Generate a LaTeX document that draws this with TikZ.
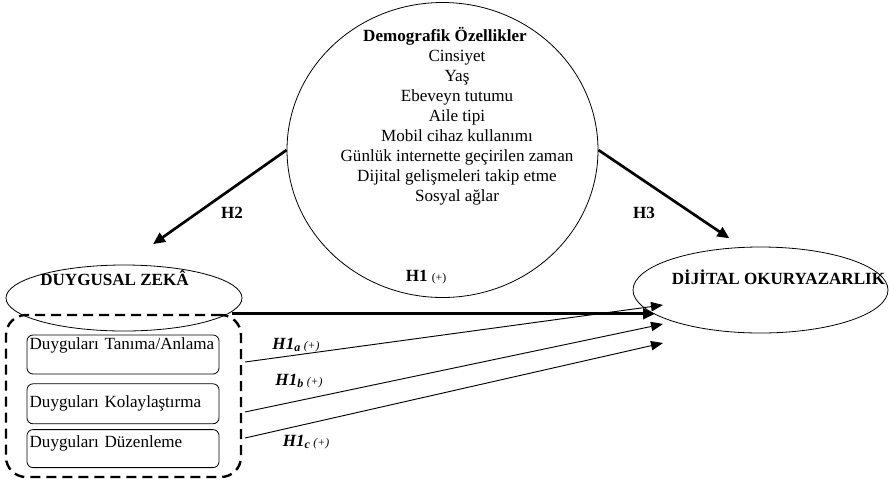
\documentclass[tikz,border=0pt]{standalone}
\usepackage{fontspec}
\setmainfont{Liberation Serif}
\usetikzlibrary{arrows.meta,positioning,shapes.geometric}
\newcommand{\hsub}[1]{\textbf{\textit{H1\textsubscript{#1}}}\,{\fontsize{8.8}{9}\selectfont\textit{(+)}}}

\begin{document}
\begin{tikzpicture}[x=0.75pt, y=-0.75pt, node distance=6.75pt,
  every node/.style={font=\fontsize{12.8}{15}\selectfont, inner sep=0pt},
  el/.style={ellipse, draw, line width=0.6pt},
  bx/.style={rounded corners=4.5pt, draw, line width=0.6pt, text width=140pt, inner xsep=2pt, align=left, text height=9pt, minimum height=29.25pt},
  grp/.style={rounded corners=15pt, draw, dash pattern=on 7.5pt off 4.5pt, line width=1.8pt, minimum width=176.25pt, minimum height=121.5pt},
  hy/.style={font=\fontsize{12.8}{15}\selectfont\bfseries},
  a/.style={-{Triangle[length=9pt,width=8pt]}, line width=2pt},
  ta/.style={-{Triangle[length=9pt,width=7pt]}, line width=0.7pt}]
  \useasboundingbox (0,0) rectangle (889,483);

  % constructs
  \node[el, minimum width=233.25pt, minimum height=221.25pt] (demo) at (442.5,150) {};
  \node[el, minimum width=177pt, minimum height=49.5pt] (zk) at (124,298) {};
  \node[el, minimum width=191.25pt, minimum height=64.5pt] (dgt) at (760.5,290) {};
  \node[align=center] (demotxt) at (457,116) {\textbf{Demografik Özellikler}\hspace*{18pt}\\Cinsiyet\\Yaş\\Ebeveyn tutumu\\Aile tipi\\Mobil cihaz kullanımı\\Günlük internette geçirilen zaman\\Dijital gelişmeleri takip etme\\Sosyal ağlar};
  \node[hy] (zktxt) at (114.5,278) {DUYGUSAL ZEKÂ};
  \node[hy] (dgttxt) at (778.5,277) {DİJİTAL OKURYAZARLIK};

  % sub-dimensions
  \node[grp] (grp) at (123.5,396) {};
  \node[bx, text depth=16.5pt] (b1) at (123,354.5) {Duyguları Tanıma/Anlama};
  \node[bx, text depth=3pt, minimum height=30pt, below=of b1] (b2) {Duyguları Kolaylaştırma};
  \node[bx, text depth=10.5pt, minimum height=28.5pt, below=3.75pt of b2] (b3) {Duyguları Düzenleme};

  % hypotheses
  \node (h2) at (232,213) {\textbf{H2}};
  \node (h3) at (644,213) {\textbf{H3}};
  \node (h1) at (426,277) {\textbf{H1} {\fontsize{8.8}{9}\selectfont(+)}};
  \node (h1a) at (296,345) {\hsub{a}};
  \node (h1b) at (299,381) {\hsub{b}};
  \node (h1c) at (306,442) {\hsub{c}};

  \coordinate (t0) at (655,316);
  \coordinate (sa) at (245,362);
  \coordinate (sb) at (245,412);
  \coordinate (sc) at (245,438);
  \coordinate (ta) at (663,305);
  \coordinate (tb) at (663,324);
  \coordinate (tc) at (663,343);

  \draw[a, shorten >=26.7pt] (demo.west) -- (zk.north);
  \draw[a, shorten >=11.7pt] (demo.east) -- (dgt.113);
  \draw[a] ([xshift=-8pt]grp.north east) -- (grp.north east -| t0);
  \draw[ta] (sa) -- (ta);
  \draw[ta] (sb) -- (tb);
  \draw[ta] (sc) -- (tc);
\end{tikzpicture}
\end{document}
